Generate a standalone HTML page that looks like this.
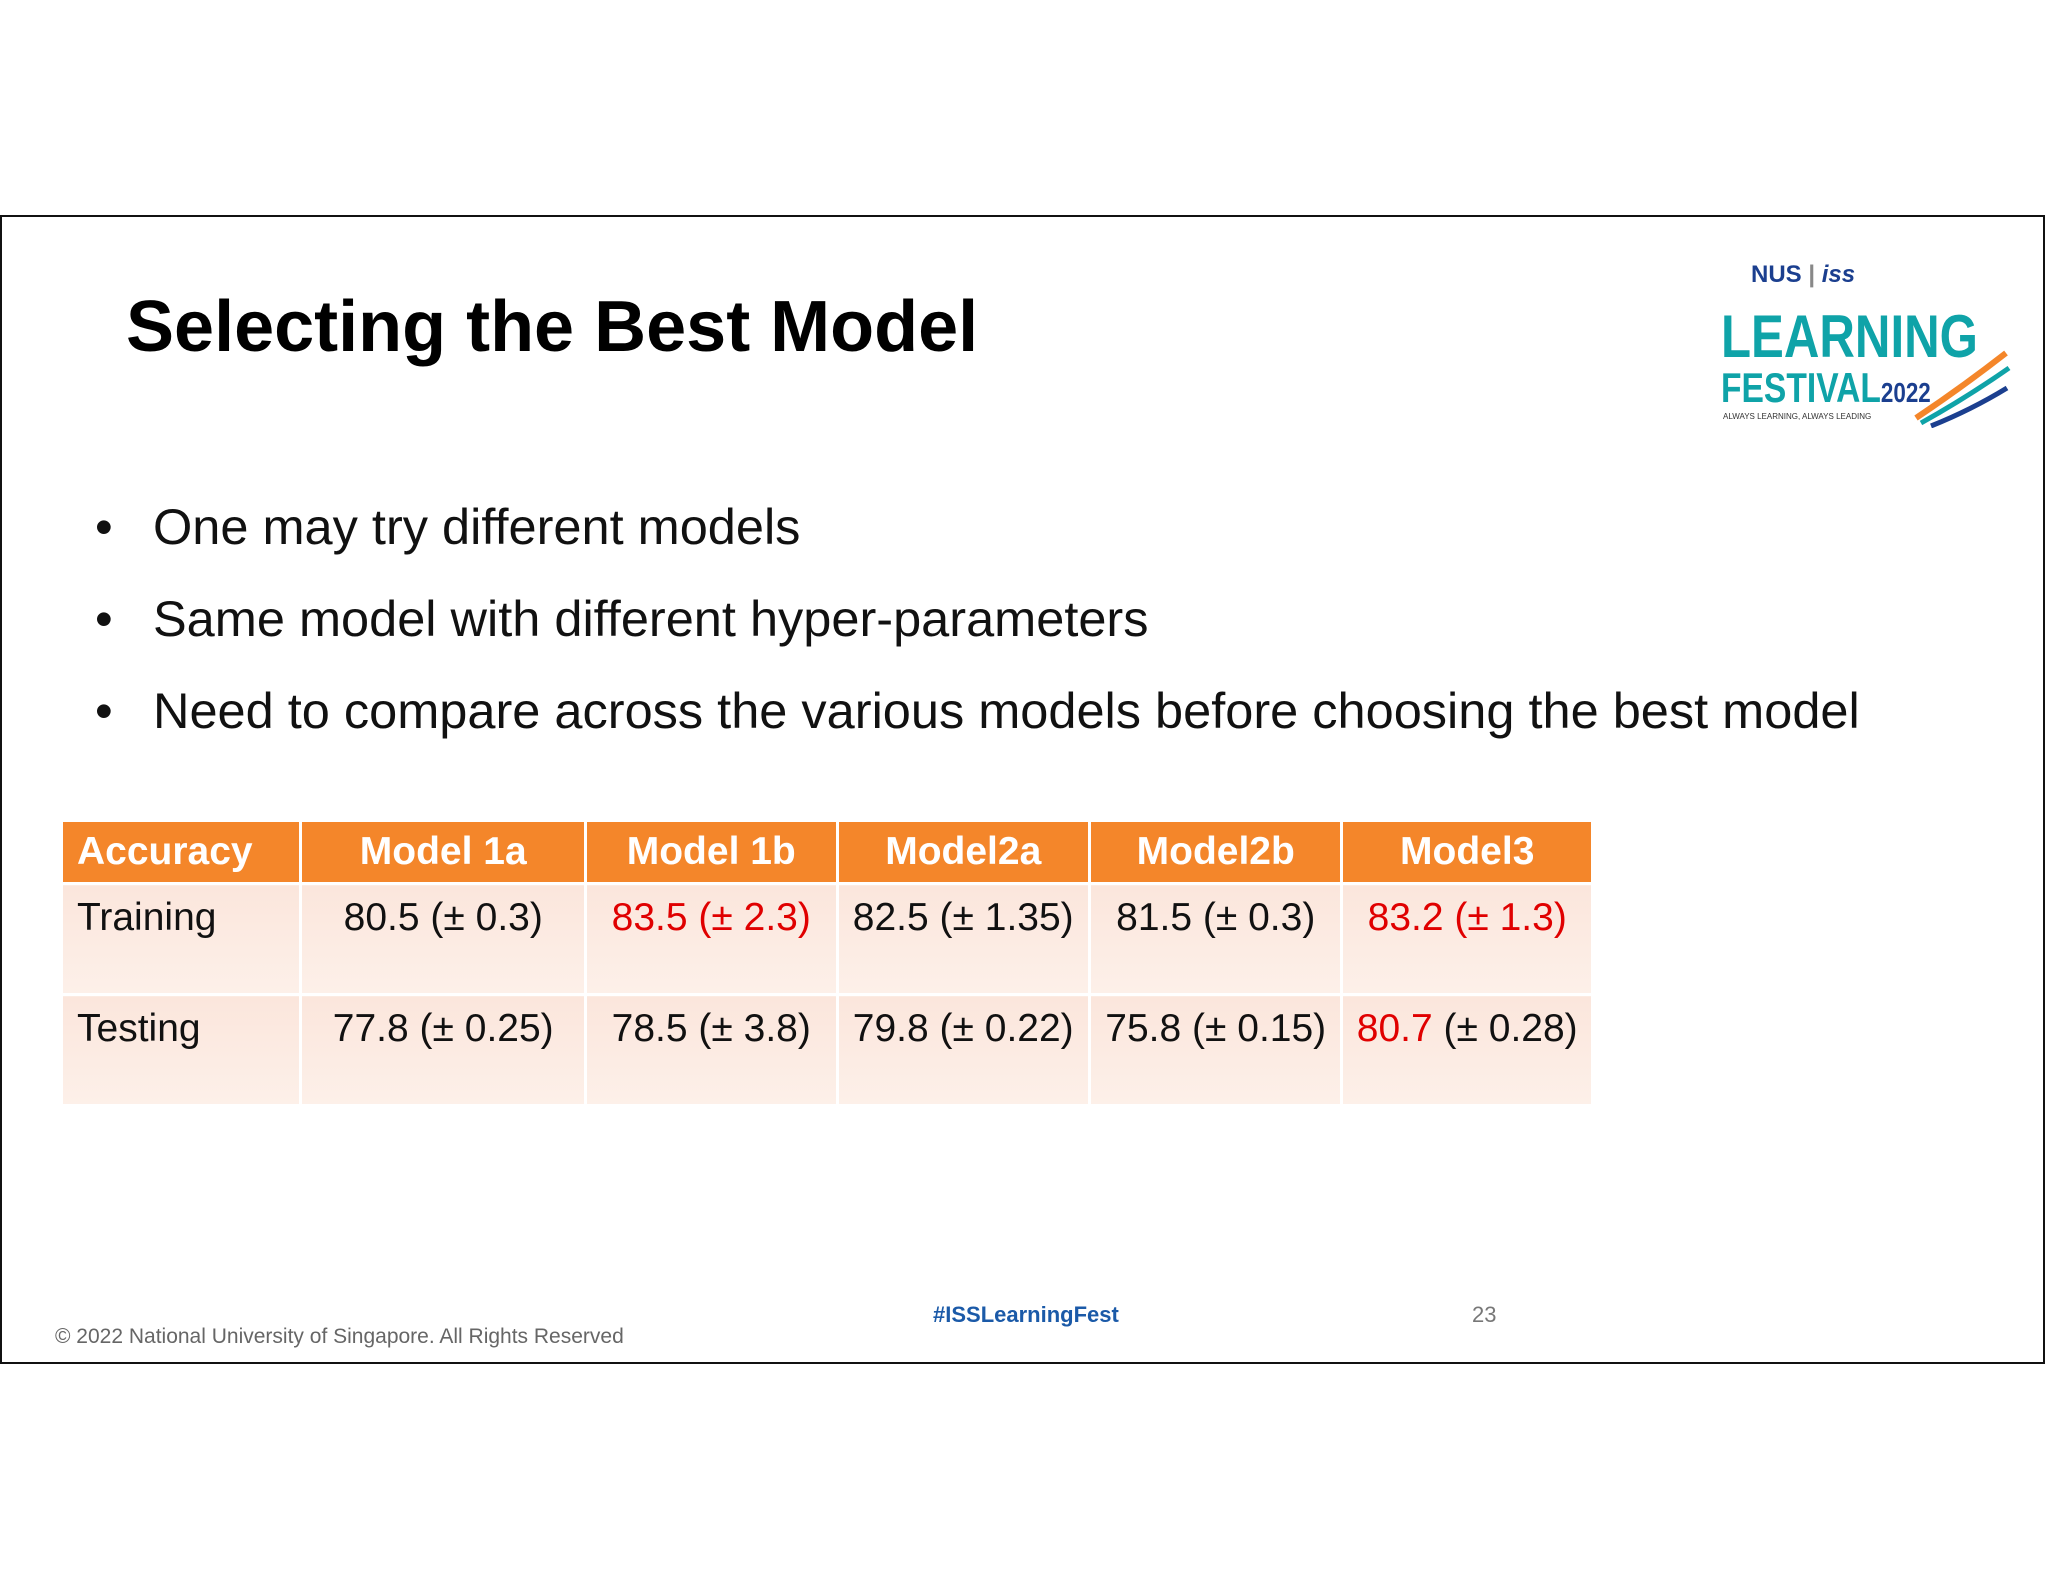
<!DOCTYPE html>
<html><head><meta charset="utf-8"><style>
body{margin:0;width:2048px;height:1582px;background:#fff;position:relative;font-family:"Liberation Sans",sans-serif;overflow:hidden}
.abs{position:absolute}
#slide{left:0;top:215px;width:2045px;height:1149px;border:2px solid #111;box-sizing:border-box}
table{border-collapse:collapse;position:absolute;left:60px;top:819px;width:1534px}
td,th{font-size:39px;border:3px solid #fff;vertical-align:top;text-align:center;padding:0}
th{background:#F4862A;color:#fff;height:58px;font-weight:bold;line-height:60px}
td{background:linear-gradient(#fbe6dc,#fdf0e9);height:108px;line-height:66px;color:#111}
.l{text-align:left;padding-left:14px}
.r{color:#e00000}
.b{font-size:50.5px;color:#111;left:95px}
.b span{position:absolute;left:58px;white-space:nowrap}
</style></head><body>
<div id="slide" class="abs"></div>
<div class="abs" style="left:126px;top:286px;font-size:72px;font-weight:bold;color:#000">Selecting the Best Model</div>
<div class="abs b" style="top:497px">•<span>One may try different models</span></div>
<div class="abs b" style="top:589px">•<span>Same model with different hyper-parameters</span></div>
<div class="abs b" style="top:681px">•<span>Need to compare across the various models before choosing the best model</span></div>
<table>
<colgroup><col style="width:239px"><col style="width:284px"><col style="width:251px"><col style="width:252px"><col style="width:252px"><col style="width:250px"></colgroup>
<tr><th class="l">Accuracy</th><th>Model 1a</th><th>Model 1b</th><th>Model2a</th><th>Model2b</th><th>Model3</th></tr>
<tr><td class="l">Training</td><td>80.5 (± 0.3)</td><td class="r">83.5 (± 2.3)</td><td>82.5 (± 1.35)</td><td>81.5 (± 0.3)</td><td class="r">83.2 (± 1.3)</td></tr>
<tr><td class="l">Testing</td><td>77.8 (± 0.25)</td><td>78.5 (± 3.8)</td><td>79.8 (± 0.22)</td><td>75.8 (± 0.15)</td><td><span class="r">80.7</span> (± 0.28)</td></tr>
</table>
<div class="abs" style="left:1721px;top:258px;width:290px;height:172px">
<div style="font-size:24px;font-weight:bold;color:#1b3f8f;position:absolute;left:30px;top:3px">NUS <span style="color:#888">|</span> <i style="color:#1b3f8f">iss</i></div>
<div style="font-size:60px;font-weight:bold;color:#0fa3a8;position:absolute;left:0;top:44px;transform:scaleX(0.82);transform-origin:left">LEARNING</div>
<div style="font-size:42px;font-weight:bold;color:#0fa3a8;position:absolute;left:0;top:106px;transform:scaleX(0.8);transform-origin:left;white-space:nowrap">FESTIVAL<span style="font-size:28px;color:#1b3f8f">2022</span></div>
<div style="font-size:8px;color:#333;position:absolute;left:2px;top:154px">ALWAYS LEARNING, ALWAYS LEADING</div>
<svg style="position:absolute;left:190px;top:90px" width="100" height="80"><path d="M5 70 Q50 40 95 5" stroke="#f4862a" stroke-width="6" fill="none"/><path d="M10 75 Q55 50 98 20" stroke="#0fa3a8" stroke-width="5" fill="none"/><path d="M20 78 Q60 62 96 40" stroke="#1b3f8f" stroke-width="5" fill="none"/></svg>
</div>
<div class="abs" style="left:933px;top:1302px;font-size:22px;font-weight:bold;color:#1b5aa8">#ISSLearningFest</div>
<div class="abs" style="left:1472px;top:1302px;font-size:22px;color:#777">23</div>
<div class="abs" style="left:55px;top:1325px;font-size:21px;color:#666">© 2022 National University of Singapore. All Rights Reserved</div>
</body></html>
